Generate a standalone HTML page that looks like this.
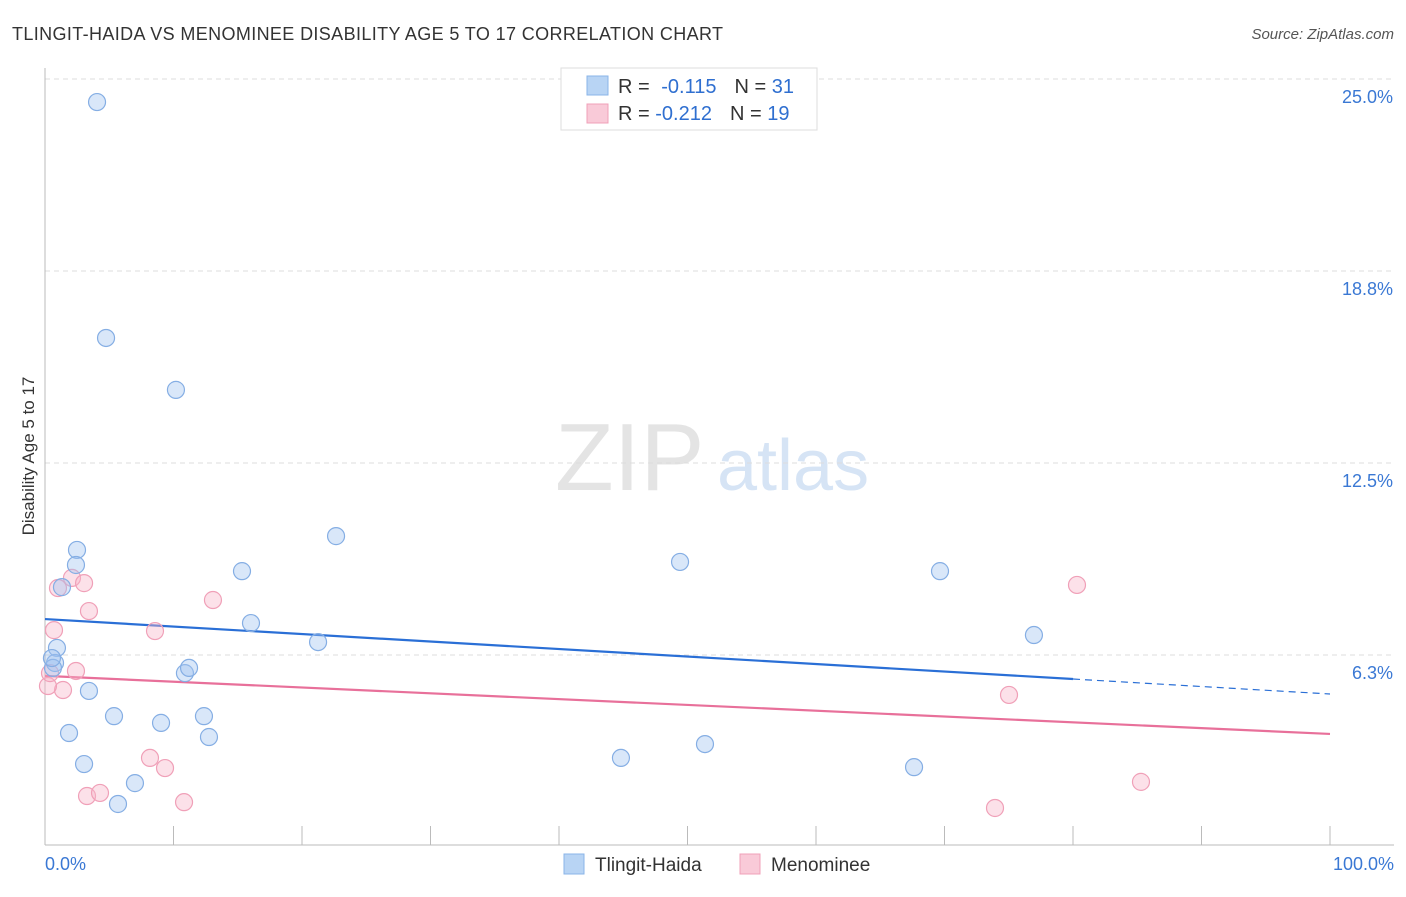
<!DOCTYPE html>
<html><head><meta charset="utf-8"><style>
body{margin:0;background:#fff;font-family:"Liberation Sans",sans-serif;}
svg text{font-family:"Liberation Sans",sans-serif;}
</style></head><body>
<svg id="chart" width="1406" height="892" xmlns="http://www.w3.org/2000/svg">
<text x="12" y="40" font-size="18" fill="#333" textLength="711">TLINGIT-HAIDA VS MENOMINEE DISABILITY AGE 5 TO 17 CORRELATION CHART</text>
<text x="1394" y="39" font-size="15" fill="#555" font-style="italic" text-anchor="end">Source: ZipAtlas.com</text>
<text x="0" y="0" transform="translate(34,456) rotate(-90)" font-size="17" fill="#333" text-anchor="middle">Disability Age 5 to 17</text>
<g>
<text x="555" y="490" font-size="96" fill="#e4e4e4" font-family="Liberation Serif, serif">ZIP</text>
<text x="717" y="490" font-size="72" fill="#d6e4f5">atlas</text>
</g>
<g id="grid"></g><g id="axes"></g><g id="lines"></g><g id="pts"></g>
<g>
<rect x="561" y="68" width="256" height="62" fill="#fff" stroke="#ddd"/>
<rect x="587" y="76" width="21" height="19" fill="#b8d4f4" stroke="#8ab4e8"/>
<rect x="587" y="104" width="21" height="19" fill="#f9cad8" stroke="#f0a0b8"/>
<text x="618" y="93" font-size="20" fill="#333">R = <tspan fill="#2f6fd0" dx="6">-0.115</tspan><tspan fill="#333" dx="18">N = </tspan><tspan fill="#2f6fd0">31</tspan></text>
<text x="618" y="120" font-size="20" fill="#333">R = <tspan fill="#2f6fd0">-0.212</tspan><tspan fill="#333" dx="18">N = </tspan><tspan fill="#2f6fd0">19</tspan></text>
</g>
<g>
<rect x="564" y="854" width="20" height="20" fill="#b8d4f4" stroke="#8ab4e8"/>
<text x="595" y="871" font-size="19" fill="#333">Tlingit-Haida</text>
<rect x="740" y="854" width="20" height="20" fill="#f9cad8" stroke="#f0a0b8"/>
<text x="771" y="871" font-size="19" fill="#333">Menominee</text>
</g>
</svg>
<script>
const yTicks=[25.0,18.8,12.5,6.3];
const yTickVals=[25,18.75,12.5,6.25];
const xTickLabels=["0.0%","100.0%"];
const blueX=[4.05,4.75,10.19,22.65,2.49,2.41,1.32,15.33,16.03,21.25,49.42,69.65,76.96,0.93,0.78,0.62,10.89,11.21,3.42,5.37,9.03,12.37,1.87,12.76,51.36,44.82,3.04,67.63,7.00,5.68,0.54];
const blueY=[24.25,16.57,14.88,10.12,9.67,9.18,8.46,8.98,7.29,6.67,9.28,8.98,6.90,6.48,5.99,5.83,5.66,5.83,5.08,4.26,4.04,4.26,3.71,3.58,3.35,2.90,2.70,2.60,2.08,1.40,6.15];
const pinkX=[1.01,2.10,3.04,3.42,13.07,0.70,8.56,2.41,1.40,0.23,0.39,80.31,75.02,8.17,9.34,3.27,4.28,10.82,73.93,85.29];
const pinkY=[8.43,8.76,8.59,7.68,8.04,7.06,7.03,5.73,5.11,5.24,5.66,8.53,4.95,2.90,2.57,1.66,1.76,1.46,1.27,2.12];
const blueTrend=[7.42,4.98], blueSolidEnd=80;
const pinkTrend=[5.57,3.68];
const X=v=>45+v*12.85, Y=v=>847-v*30.72;
const NS="http://www.w3.org/2000/svg";
function mk(p,t,a){const e=document.createElementNS(NS,t);for(const k in a)e.setAttribute(k,a[k]);document.getElementById(p).appendChild(e);return e;}
yTickVals.forEach((v,i)=>{
 const g=mk('grid','line',{x1:45,x2:1394,y1:Y(v),y2:Y(v),stroke:'#ddd','stroke-dasharray':'5,4'});
 
 
 const t=mk('grid','text',{x:1393,y:Y(v)+24,'font-size':18,fill:'#3a78d4','text-anchor':'end'});
 t.textContent=yTicks[i].toFixed(1)+"%";
 
 
});
let ax=mk('axes','line',{x1:45,x2:45,y1:68,y2:845,stroke:'#bbb'});


ax=mk('axes','line',{x1:45,x2:1394,y1:845,y2:845,stroke:'#bbb'});


for(let i=0;i<=10;i++){const l=mk('axes','line',{x1:X(i*10),x2:X(i*10),y1:826,y2:845,stroke:'#bbb'});
 
 }
[[0,'start',45],[100,'end',1394]].forEach((d,i)=>{const t=mk('axes','text',{x:d[2],y:870,'font-size':18,fill:'#3a78d4','text-anchor':d[1]});t.textContent=xTickLabels[i];
 
 });
const ty=(a,x)=>a[0]+(a[1]-a[0])*x/100;
let l=mk('lines','line',{x1:X(0),y1:Y(ty(blueTrend,0)),x2:X(blueSolidEnd),y2:Y(ty(blueTrend,blueSolidEnd)),stroke:'#2a6fd6','stroke-width':2.2});


l=mk('lines','line',{x1:X(blueSolidEnd),y1:Y(ty(blueTrend,blueSolidEnd)),x2:X(100),y2:Y(ty(blueTrend,100)),stroke:'#2a6fd6','stroke-width':1.2,'stroke-dasharray':'7,5'});


l=mk('lines','line',{x1:X(0),y1:Y(ty(pinkTrend,0)),x2:X(100),y2:Y(ty(pinkTrend,100)),stroke:'#e8709a','stroke-width':2.2});


pinkX.forEach((x,i)=>{const c=mk('pts','circle',{cx:X(x),cy:Y(pinkY[i]),r:8.5,fill:'rgba(248,180,200,0.4)',stroke:'#f0a0b8','stroke-width':1.2});
 
 });
blueX.forEach((x,i)=>{const c=mk('pts','circle',{cx:X(x),cy:Y(blueY[i]),r:8.5,fill:'rgba(160,196,240,0.4)',stroke:'#85aee4','stroke-width':1.2});
 
 });
</script>
</body></html>
